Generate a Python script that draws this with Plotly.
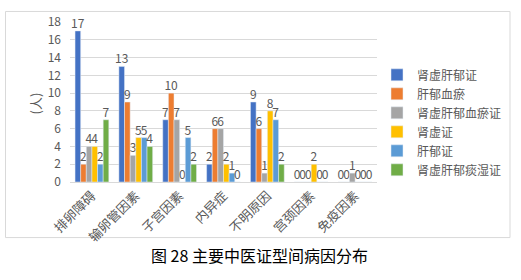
import plotly.graph_objects as go

categories = ["排卵障碍", "输卵管因素", "子宫因素", "内异症", "不明原因", "宫颈因素", "免疫因素"]
series_names = ["肾虚肝郁证", "肝郁血瘀", "肾虚肝郁血瘀证", "肾虚证", "肝郁证", "肾虚肝郁痰湿证"]
s1 = [17, 13, 7, 2, 9, 0, 0]
s2 = [2, 9, 10, 6, 6, 0, 0]
s3 = [4, 3, 7, 6, 1, 0, 1]
s4 = [4, 5, 0, 2, 8, 2, 0]
s5 = [2, 5, 5, 1, 7, 0, 0]
s6 = [7, 4, 2, 0, 2, 0, 0]
series_values = [s1, s2, s3, s4, s5, s6]
colors = ["#4472C4", "#ED7D31", "#A5A5A5", "#FFC000", "#5B9BD5", "#70AD47"]
yticks = list(range(0, 19, 2))

FONT = "Noto Sans CJK SC"
W, H = 521, 280
L, R, T, B = 70, 377, 15, 182

fig = go.Figure()
for name, vals, c in zip(series_names, series_values, colors):
    fig.add_trace(go.Bar(
        x=categories, y=vals, name=name, marker_color=c,
        text=[str(v) for v in vals], textposition="outside",
        textfont=dict(size=12, color="#595959", family=FONT),
        constraintext="none", cliponaxis=False,
    ))

pw, ph = R - L, B - T
def px(x):
    return (x - L) / pw
def py(y):
    return (B - y) / ph

fig.update_layout(
    width=W, height=H,
    margin=dict(l=L, r=W - R, t=T, b=H - B),
    paper_bgcolor="white", plot_bgcolor="white",
    barmode="group", bargap=0.23, bargroupgap=0,
    font=dict(family=FONT, color="#595959", size=11),
    showlegend=True,
    legend=dict(x=px(377), y=py(55), xanchor="left", yanchor="top",
                font=dict(size=12, color="#595959", family=FONT),
                tracegroupgap=0, itemwidth=30, bgcolor="rgba(0,0,0,0)"),
    shapes=[dict(type="rect", xref="paper", yref="paper",
                 x0=px(5.5), x1=px(510), y0=py(240), y1=py(4),
                 line=dict(color="#D9D9D9", width=1), layer="below")],
    annotations=[
        dict(text="图 28 主要中医证型间病因分布", xref="paper", yref="paper",
             x=px(259), y=py(258), xanchor="center", yanchor="middle",
             showarrow=False, font=dict(size=16, color="#000000", family=FONT)),
        dict(text="(人)", xref="paper", yref="paper", x=px(35), y=py(100),
             textangle=-90, showarrow=False, xanchor="center", yanchor="middle",
             font=dict(size=13, color="#595959", family=FONT)),
    ],
)
fig.update_yaxes(range=[0, 18], tickvals=yticks, showgrid=True, gridcolor="#D9D9D9",
                 gridwidth=1, zeroline=False, showline=False, ticks="",
                 tickfont=dict(size=12, color="#595959"), ticklabelstandoff=8)
fig.update_xaxes(showline=True, linecolor="#D9D9D9", tickangle=-45, ticks="",
                 tickfont=dict(size=13, color="#595959"))

fig.write_html("out.html")
